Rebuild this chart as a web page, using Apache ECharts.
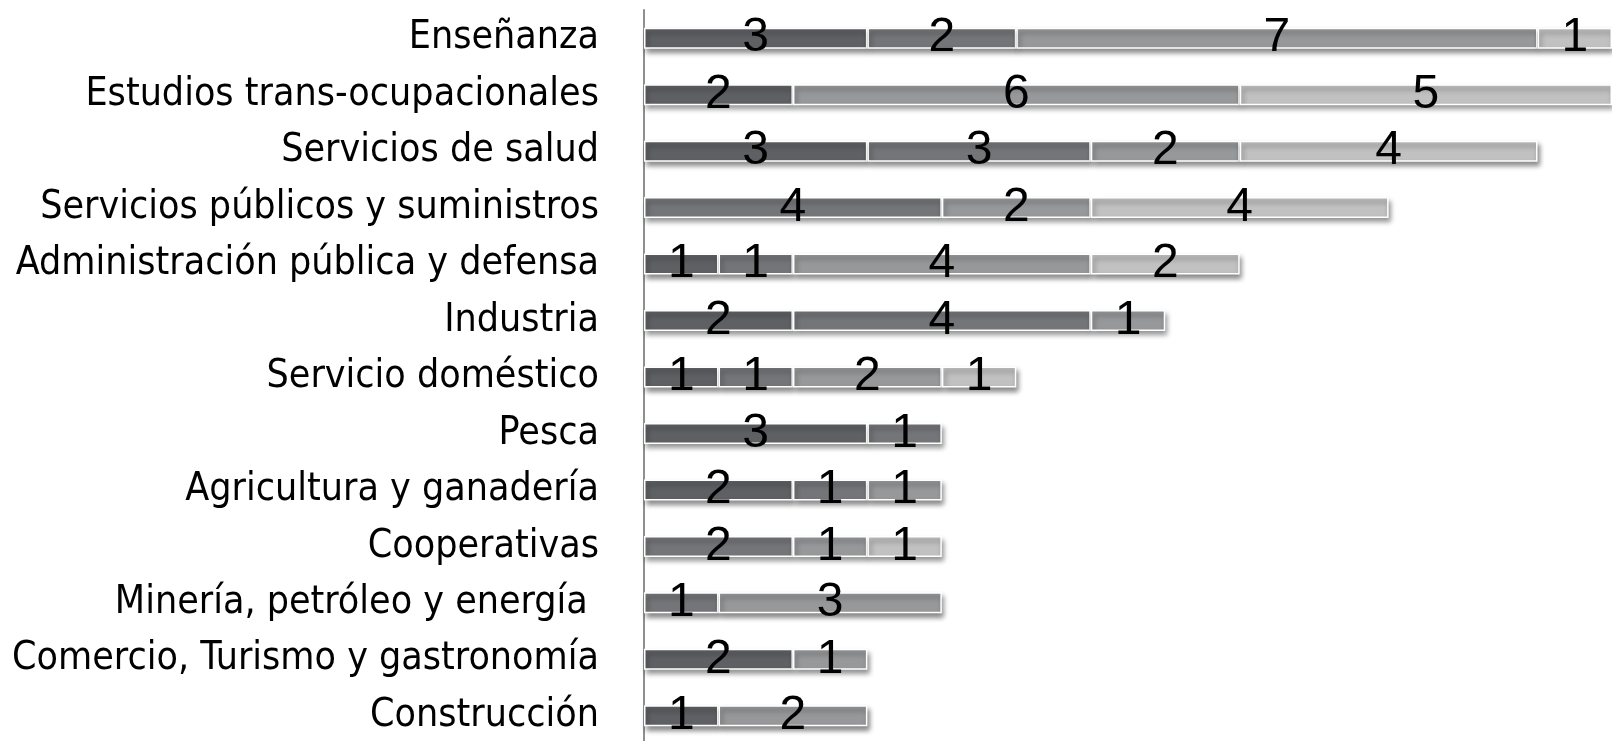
<!DOCTYPE html>
<html>
<head>
<meta charset="utf-8">
<script src="https://cdn.jsdelivr.net/npm/echarts@6/dist/echarts.min.js"></script>
<style>
  html, body { margin: 0; padding: 0; background: #fff; }
  #chart { width: 1612px; height: 741px; }
</style>
</head>
<body>
<div id="chart"></div>
<script>
// categorías, de arriba hacia abajo
const categories = [
  'Enseñanza',
  'Estudios trans-ocupacionales',
  'Servicios de salud',
  'Servicios públicos y suministros',
  'Administración pública y defensa',
  'Industria',
  'Servicio doméstico',
  'Pesca',
  'Agricultura y ganadería',
  'Cooperativas',
  'Minería, petróleo y energía ',
  'Comercio, Turismo y gastronomía',
  'Construcción'
];

// cuatro tramos apilados (del más oscuro al más claro)
const serie1 = [3, 2, 3, '-', 1, 2, 1, 3, 2, '-', '-', 2, 1];
const serie2 = [2, '-', 3, 4, 1, 4, 1, 1, 1, 2, 1, '-', '-'];
const serie3 = [7, 6, 2, 2, 4, 1, 2, '-', 1, 1, 3, 1, 2];
const serie4 = [1, 5, 4, 4, 2, '-', 1, '-', '-', 1, '-', '-', '-'];

const colors = ['#5f6064', '#747578', '#97989a', '#c1c1c1'];
const labelFont = '"DejaVu Sans Condensed", sans-serif';
const numFont = '"Liberation Sans", Arial, sans-serif';

const myChart = echarts.init(document.getElementById('chart'));

function makeSeries(name, data, color) {
  return {
    name: name,
    type: 'bar',
    stack: 'total',
    barWidth: 21,
    data: data,
    itemStyle: {
      color: color,
      borderColor: '#fff',
      borderWidth: 1.5,
      shadowBlur: 5,
      shadowOffsetX: 2,
      shadowOffsetY: 4,
      shadowColor: 'rgba(0,0,0,0.45)'
    },
    label: {
      show: true,
      position: 'inside',
      color: '#000',
      fontFamily: numFont,
      fontSize: 48
    }
  };
}

const option = {
  backgroundColor: '#fff',
  animation: false,
  grid: {
    left: 644,
    right: 0,
    top: 10,
    height: 734,
    outerBoundsMode: 'none',
    containLabel: false
  },
  xAxis: {
    type: 'value',
    min: 0,
    max: 13,
    show: false
  },
  yAxis: {
    type: 'category',
    inverse: true,
    data: categories,
    axisLine: { show: true, lineStyle: { color: '#8f8f8f', width: 2 } },
    axisTick: { show: false },
    axisLabel: {
      interval: 0,
      hideOverlap: false,
      color: '#000',
      fontFamily: labelFont,
      fontSize: 39,
      margin: 45
    }
  },
  series: [
    makeSeries('s1', serie1, colors[0]),
    makeSeries('s2', serie2, colors[1]),
    makeSeries('s3', serie3, colors[2]),
    makeSeries('s4', serie4, colors[3])
  ]
};

myChart.setOption(option);
</script>
</body>
</html>
